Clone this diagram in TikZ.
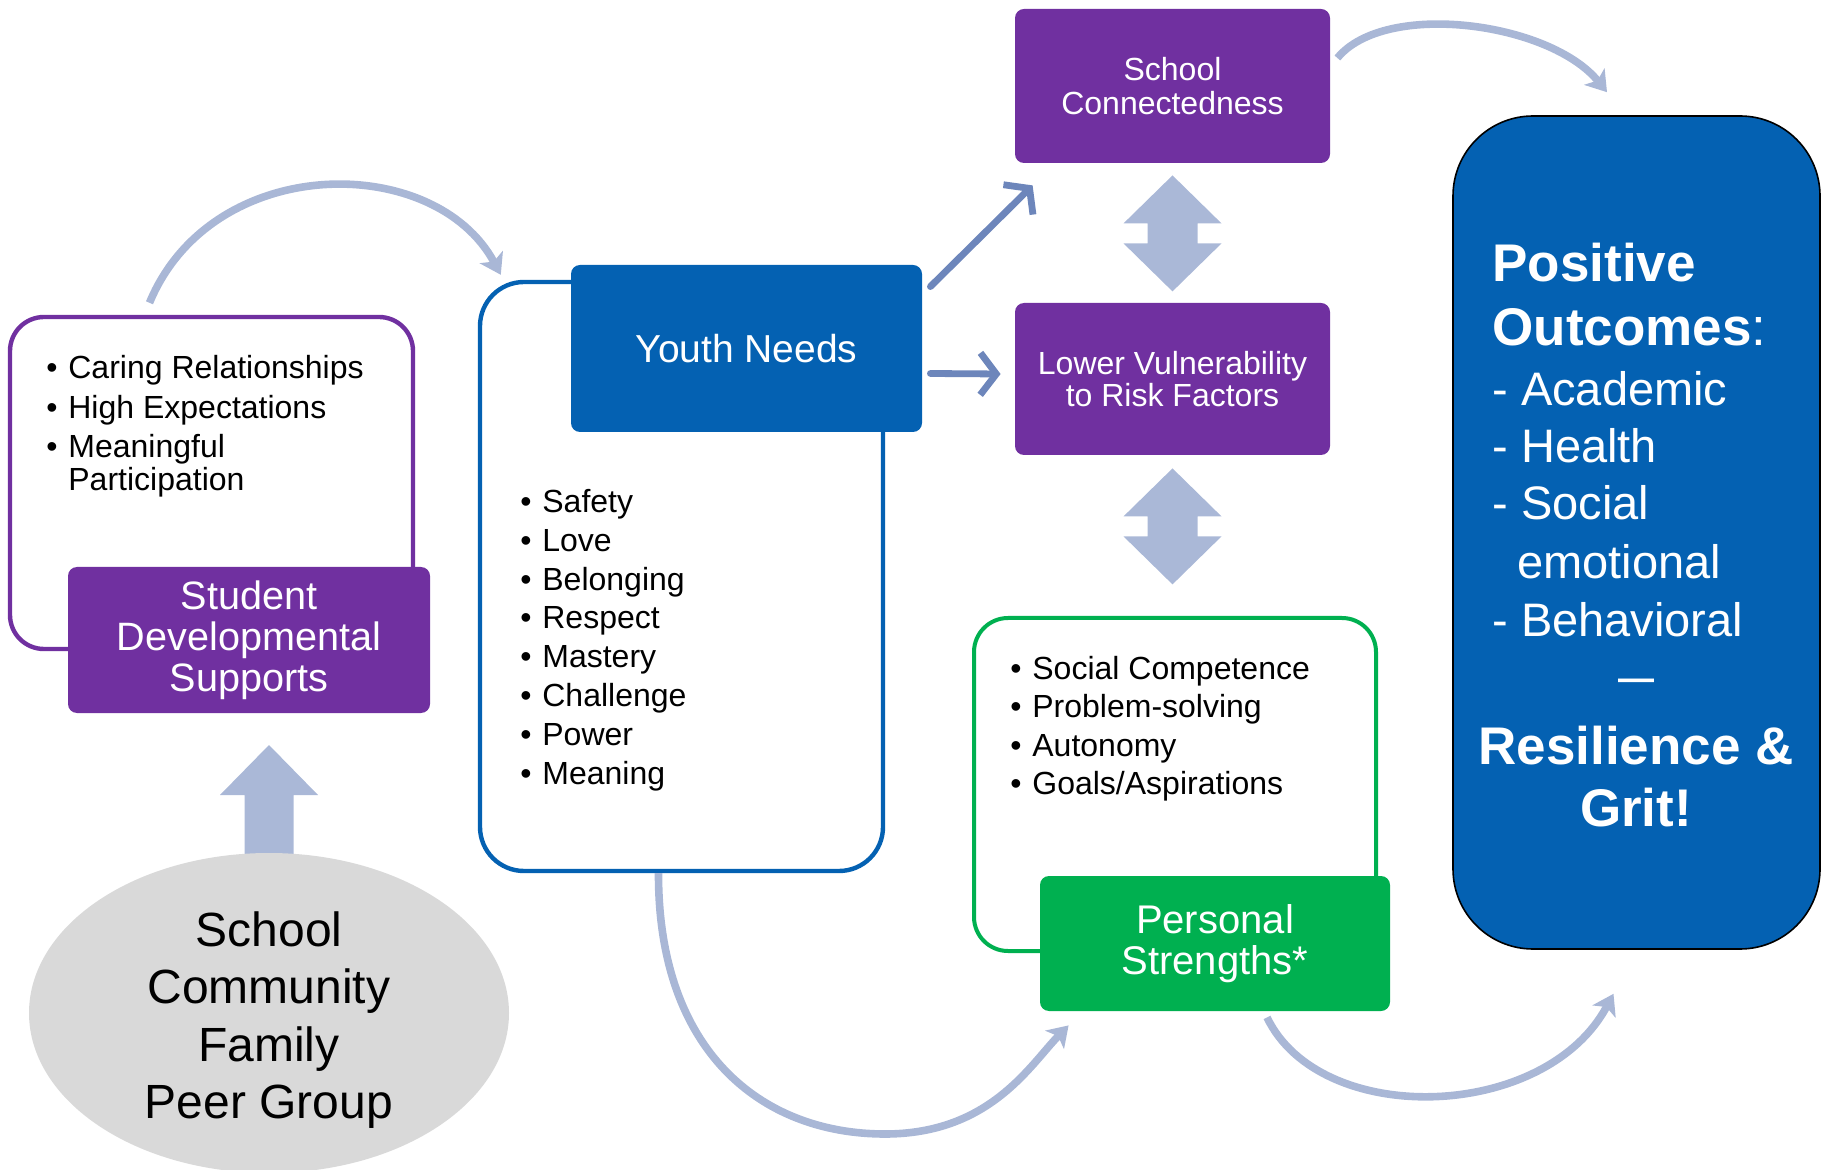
\documentclass[tikz,border=0pt]{standalone}
\usepackage{fontspec}
\setmainfont{Liberation Sans}
\usetikzlibrary{arrows.meta,calc,shapes.geometric}

\definecolor{purp}{HTML}{7030A0}
\definecolor{navy}{HTML}{0461B2}
\definecolor{leaf}{HTML}{00B050}
\definecolor{arcblue}{HTML}{A9B7D6}
\definecolor{fatblue}{HTML}{AAB8D7}
\definecolor{ptrblue}{HTML}{6D86BB}
\definecolor{cloud}{HTML}{D9D9D9}

\newcommand\bul{\makebox[11pt][l]{\textbullet}}

\begin{document}
\begin{tikzpicture}[x=0.5pt,y=-0.5pt,
  every node/.style={inner sep=0pt},
  solidbox/.style={rectangle, rounded corners=4.5pt, text=white, align=center},
  framebox/.style={rectangle, draw, fill=white, line width=2.2pt},
  arcline/.style={draw=arcblue, line width=3.8pt, -{Stealth[length=10pt,width=13pt,inset=2.5pt]}},
  pointer/.style={draw=ptrblue, line width=3.4pt, line cap=round,
    -{Straight Barb[length=8pt,width=21pt]}},
  fatarrow/.style={fill=fatblue},
  bullets/.style={anchor=base west, text=black, align=left},
  outbig/.style={text=white, font=\fontsize{26.5}{30}\selectfont\bfseries},
  outitem/.style={anchor=base west, text=white, font=\fontsize{23.5}{28}\selectfont},
]
\useasboundingbox (0,0) rectangle (1826,1170);
\clip (0,0) rectangle (1826,1170);

% ---------- framed lists ----------
\node[framebox, draw=purp, rounded corners=17pt,
      minimum width=201.5pt, minimum height=166pt] (stuList) at (211.5,483) {};
\node[framebox, draw=navy, rounded corners=22pt,
      minimum width=201.5pt, minimum height=294.5pt] (youthList) at (681.5,576.5) {};
\node[framebox, draw=leaf, line width=2pt, rounded corners=17pt,
      minimum width=201pt, minimum height=166.5pt] (strList) at (1175,784.5) {};

% ---------- solid boxes ----------
\node[solidbox, fill=purp, minimum width=181pt, minimum height=73pt,
      font=\fontsize{19.8}{20.5}\selectfont] (support) at (249,640)
      {Student\\Developmental\\Supports};
\node[solidbox, fill=navy, minimum width=175.5pt, minimum height=83.5pt,
      font=\fontsize{19.5}{22}\selectfont] (youth) at (746.5,348.5) {Youth Needs};
\node[solidbox, fill=purp, minimum width=157.5pt, minimum height=77pt,
      font=\fontsize{16}{16.8}\selectfont] (sc) at (1172.5,86) {School\\Connectedness};
\node[solidbox, fill=purp, minimum width=157.5pt, minimum height=76pt,
      font=\fontsize{16}{16.4}\selectfont] (lv) at (1172.5,379)
      {Lower Vulnerability\\to Risk Factors};
\node[solidbox, fill=leaf, minimum width=175pt, minimum height=67.5pt,
      font=\fontsize{20}{20.5}\selectfont] (personal) at (1215,943.5)
      {Personal\\Strengths*};
\node[rectangle, draw=black, line width=0.8pt, fill=navy, rounded corners=40pt,
      minimum width=183.5pt, minimum height=416.5pt] (outcome) at (1636.5,532.5) {};

% ---------- bullet lists ----------
\node[bullets, font=\fontsize{16}{16.5}\selectfont] (stuItems) at (46,378.5)
  {\begin{tabular}[t]{@{}l@{}}
   \bul Caring Relationships\\[3.25pt]
   \bul High Expectations\\[3.25pt]
   \bul Meaningful\\
   \hspace{11pt}Participation
   \end{tabular}};
\node[bullets, font=\fontsize{16}{19.4}\selectfont] (youthItems) at (520,512.5)
  {\begin{tabular}[t]{@{}l@{}}
   \bul Safety\\ \bul Love\\ \bul Belonging\\ \bul Respect\\
   \bul Mastery\\ \bul Challenge\\ \bul Power\\ \bul Meaning
   \end{tabular}};
\node[bullets, font=\fontsize{16}{19.25}\selectfont] (strItems) at (1010,679.5)
  {\begin{tabular}[t]{@{}l@{}}
   \bul Social Competence\\ \bul Problem-solving\\
   \bul Autonomy\\ \bul Goals/Aspirations
   \end{tabular}};

% ---------- outcome text ----------
\node[outbig, anchor=base west] (oPos) at (1492,282) {Positive};
\node[outbig, anchor=base west] (oOut) at (1492,346) {Outcomes\mdseries:};
\node[outitem] (oAca) at (1492,406) {- Academic};
\node[outitem] (oHea) at (1492,463) {- Health};
\node[outitem] (oSoc) at (1492,520) {- Social};
\node[outitem] (oEmo) at (1517,579) {emotional};
\node[outitem] (oBeh) at (1492,637) {- Behavioral};
\node[text=white, anchor=base, font=\fontsize{18}{20}\selectfont\bfseries] (oDash) at (1636,690) {—};
\node[outbig, anchor=base] (oRes) at (1636,764) {Resilience \&};
\node[outbig, anchor=base] (oGrit) at (1636,826) {Grit!};

% ---------- sources ellipse with its up arrow ----------
\coordinate (eTop) at (269,853);
\fill[fatarrow] ($(eTop)+(0,-108)$) -- ++(49,50) -- ++(-24.5,0) -- ++(0,65)
  -- ++(-49,0) -- ++(0,-65) -- ++(-24.5,0) -- cycle;
\node[ellipse, fill=cloud, minimum width=240pt, minimum height=160pt] (sources) at (269,1013) {};
\node[align=center, font=\fontsize{24}{28.75}\selectfont] (sourcesText)
      at ($(sources.center)+(0,7)$) {School\\Community\\Family\\Peer Group};

% ---------- double arrows between the middle column ----------
\fill[fatarrow] ($(sc.south)+(0,12)$) -- ++(49,48) -- ++(-24,0) -- ++(0,20)
  -- ++(24,0) -- ++(-49,48) -- ++(-49,-48) -- ++(24,0) -- ++(0,-20)
  -- ++(-24,0) -- cycle;
\fill[fatarrow] ($(lv.south)+(0,13)$) -- ++(49,48) -- ++(-24,0) -- ++(0,20)
  -- ++(24,0) -- ++(-49,48) -- ++(-49,-48) -- ++(24,0) -- ++(0,-20)
  -- ++(-24,0) -- cycle;

% ---------- pointers out of Youth Needs ----------
\draw[pointer] ($(youth.north east)+(8,22)$) -- ($(sc.south west)+(18,22)$);
\draw[pointer] ($(youth.east)+(8,25)$) -- ($(lv.west)+(-14,-5)$);

% ---------- curved flow arrows ----------
\draw[arcline] ($(stuList.north)+(-62,-12)$)
  .. controls (212,152) and (435,152) .. ($(youthList.north west)+(23,-5)$);
\draw[arcline] ($(sc.east)+(7,-28)$)
  .. controls (1385,0) and (1550,22) .. ($(outcome.north)+(-29.5,-23)$);
\draw[arcline] ($(youthList.south)+(-23,0)$)
  .. controls (658,1050) and (760,1134) .. (885,1134)
  .. controls (990,1134) and (1030,1065) .. ($(personal.south west)+(29,14)$);
\draw[arcline] ($(personal.south)+(52,6)$)
  .. controls (1320,1128) and (1545,1122) .. ($(outcome.south)+(-23,44)$);
\end{tikzpicture}
\end{document}
